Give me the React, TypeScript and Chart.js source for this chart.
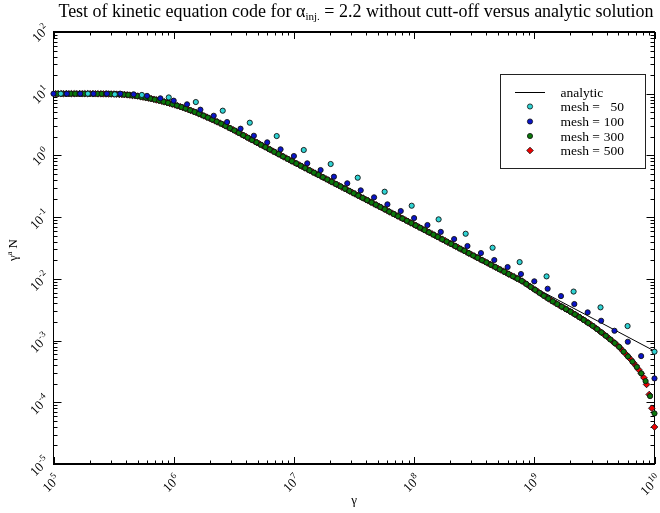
import React, { useEffect, useRef } from "react";
import { Chart, registerables } from "chart.js";

Chart.register(...registerables);

const FONT = '"Liberation Serif", "DejaVu Serif", serif';

// Axis decades (log10)
const xTickExponents = [5, 6, 7, 8, 9, 10];
const yTickExponents = [-5, -4, -3, -2, -1, 0, 1, 2];

// Analytic solution: log10(gamma), log10(gamma^a N)
const analyticLogGamma = [5.0, 5.3, 5.5, 5.6, 5.7, 5.8, 5.9, 6.0, 6.1, 6.2, 6.3, 6.4, 6.5, 6.6, 6.7, 7.0, 8.0, 9.0, 10.0];
const analyticLogN = [1.0, 1.0, 0.995, 0.985, 0.962, 0.925, 0.88, 0.825, 0.76, 0.685, 0.6, 0.51, 0.41, 0.305, 0.2, -0.11, -1.12, -2.14, -3.17];

// mesh = 50
const mesh50LogGamma = [5.061, 5.286, 5.510, 5.735, 5.959, 6.184, 6.408, 6.633, 6.857, 7.082, 7.306, 7.531, 7.755, 7.980, 8.204, 8.429, 8.653, 8.878, 9.102, 9.327, 9.551, 9.776, 10.0];
const mesh50LogN = [1.0, 1.0, 0.99, 0.98, 0.94, 0.865, 0.725, 0.53, 0.314, 0.088, -0.139, -0.361, -0.588, -0.815, -1.036, -1.269, -1.496, -1.728, -1.96, -2.206, -2.462, -2.765, -3.18];

// mesh = 100
const mesh100LogGamma = [5.0, 5.111, 5.222, 5.333, 5.444, 5.556, 5.667, 5.778, 5.889, 6.0, 6.111, 6.222, 6.333, 6.444, 6.556, 6.667, 6.778, 6.889, 7.0, 7.111, 7.222, 7.333, 7.444, 7.556, 7.667, 7.778, 7.889, 8.0, 8.111, 8.222, 8.333, 8.444, 8.556, 8.667, 8.778, 8.889, 9.0, 9.111, 9.222, 9.333, 9.444, 9.556, 9.667, 9.778, 9.889, 10.0];
const mesh100LogN = [1.0, 1.0, 1.0, 1.0, 1.0, 1.0, 0.99, 0.965, 0.925, 0.887, 0.828, 0.741, 0.643, 0.541, 0.433, 0.319, 0.212, 0.099, -0.01, -0.128, -0.237, -0.345, -0.452, -0.566, -0.679, -0.793, -0.901, -1.015, -1.128, -1.239, -1.355, -1.468, -1.582, -1.695, -1.809, -1.922, -2.04, -2.16, -2.279, -2.408, -2.543, -2.679, -2.841, -3.019, -3.251, -3.613];

// mesh = 300
const mesh300LogGamma = [5.033, 5.070, 5.107, 5.144, 5.181, 5.217, 5.254, 5.291, 5.328, 5.365, 5.401, 5.438, 5.475, 5.512, 5.549, 5.585, 5.622, 5.659, 5.696, 5.732, 5.769, 5.806, 5.843, 5.880, 5.916, 5.953, 5.990, 6.027, 6.064, 6.100, 6.137, 6.174, 6.211, 6.248, 6.284, 6.321, 6.358, 6.395, 6.431, 6.468, 6.505, 6.542, 6.579, 6.615, 6.652, 6.689, 6.726, 6.763, 6.799, 6.836, 6.873, 6.910, 6.947, 6.983, 7.020, 7.057, 7.094, 7.130, 7.167, 7.204, 7.241, 7.278, 7.314, 7.351, 7.388, 7.425, 7.462, 7.498, 7.535, 7.572, 7.609, 7.646, 7.682, 7.719, 7.756, 7.793, 7.829, 7.866, 7.903, 7.940, 7.977, 8.013, 8.050, 8.087, 8.124, 8.161, 8.197, 8.234, 8.271, 8.308, 8.344, 8.381, 8.418, 8.455, 8.492, 8.528, 8.565, 8.602, 8.639, 8.676, 8.712, 8.749, 8.786, 8.823, 8.860, 8.896, 8.933, 8.970, 9.007, 9.044, 9.080, 9.117, 9.154, 9.191, 9.228, 9.264, 9.301, 9.338, 9.375, 9.411, 9.448, 9.485, 9.522, 9.559, 9.595, 9.632, 9.669, 9.706, 9.743, 9.779, 9.816, 9.853, 9.890, 9.926, 9.963, 10.000];
const mesh300LogN = [1.0, 1.0, 1.0, 1.0, 1.0, 1.0, 1.0, 1.0, 1.0, 0.998, 0.998, 0.997, 0.996, 0.994, 0.990, 0.986, 0.980, 0.971, 0.963, 0.950, 0.936, 0.922, 0.906, 0.889, 0.871, 0.851, 0.831, 0.808, 0.784, 0.760, 0.732, 0.705, 0.676, 0.645, 0.613, 0.581, 0.548, 0.515, 0.479, 0.442, 0.405, 0.366, 0.327, 0.289, 0.250, 0.212, 0.173, 0.135, 0.097, 0.059, 0.021, -0.017, -0.055, -0.093, -0.130, -0.167, -0.205, -0.242, -0.279, -0.316, -0.353, -0.390, -0.428, -0.465, -0.502, -0.539, -0.576, -0.613, -0.651, -0.688, -0.725, -0.762, -0.799, -0.836, -0.873, -0.911, -0.948, -0.985, -1.022, -1.059, -1.096, -1.134, -1.171, -1.209, -1.246, -1.284, -1.321, -1.359, -1.396, -1.434, -1.471, -1.509, -1.546, -1.584, -1.622, -1.659, -1.697, -1.734, -1.772, -1.809, -1.847, -1.884, -1.922, -1.959, -1.997, -2.034, -2.082, -2.131, -2.178, -2.227, -2.274, -2.320, -2.365, -2.409, -2.450, -2.491, -2.531, -2.575, -2.620, -2.665, -2.713, -2.761, -2.813, -2.868, -2.923, -2.982, -3.040, -3.102, -3.179, -3.257, -3.339, -3.428, -3.531, -3.657, -3.900, -4.180];

// mesh = 500
const mesh500LogGamma = [5.018, 5.040, 5.062, 5.084, 5.106, 5.128, 5.150, 5.172, 5.194, 5.216, 5.238, 5.261, 5.283, 5.305, 5.327, 5.349, 5.371, 5.393, 5.415, 5.437, 5.459, 5.481, 5.503, 5.525, 5.547, 5.569, 5.591, 5.613, 5.635, 5.657, 5.679, 5.701, 5.723, 5.745, 5.768, 5.790, 5.812, 5.834, 5.856, 5.878, 5.900, 5.922, 5.944, 5.966, 5.988, 6.010, 6.032, 6.054, 6.076, 6.098, 6.120, 6.142, 6.164, 6.186, 6.208, 6.230, 6.253, 6.275, 6.297, 6.319, 6.341, 6.363, 6.385, 6.407, 6.429, 6.451, 6.473, 6.495, 6.517, 6.539, 6.561, 6.583, 6.605, 6.627, 6.649, 6.671, 6.693, 6.715, 6.737, 6.760, 6.782, 6.804, 6.826, 6.848, 6.870, 6.892, 6.914, 6.936, 6.958, 6.980, 7.002, 7.024, 7.046, 7.068, 7.090, 7.112, 7.134, 7.156, 7.178, 7.200, 7.222, 7.245, 7.267, 7.289, 7.311, 7.333, 7.355, 7.377, 7.399, 7.421, 7.443, 7.465, 7.487, 7.509, 7.531, 7.553, 7.575, 7.597, 7.619, 7.641, 7.663, 7.685, 7.707, 7.730, 7.752, 7.774, 7.796, 7.818, 7.840, 7.862, 7.884, 7.906, 7.928, 7.950, 7.972, 7.994, 8.016, 8.038, 8.060, 8.082, 8.104, 8.126, 8.148, 8.170, 8.192, 8.214, 8.236, 8.259, 8.281, 8.303, 8.325, 8.347, 8.369, 8.391, 8.413, 8.435, 8.457, 8.479, 8.501, 8.523, 8.545, 8.567, 8.589, 8.611, 8.633, 8.655, 8.677, 8.699, 8.721, 8.744, 8.766, 8.788, 8.810, 8.832, 8.854, 8.876, 8.898, 8.920, 8.942, 8.964, 8.986, 9.008, 9.030, 9.052, 9.074, 9.096, 9.118, 9.140, 9.162, 9.184, 9.206, 9.228, 9.251, 9.273, 9.295, 9.317, 9.339, 9.361, 9.383, 9.405, 9.427, 9.449, 9.471, 9.493, 9.515, 9.537, 9.559, 9.581, 9.603, 9.625, 9.647, 9.669, 9.691, 9.713, 9.735, 9.758, 9.780, 9.802, 9.824, 9.846, 9.868, 9.890, 9.912, 9.934, 9.956, 9.978, 10.000];
const mesh500LogN = [1.0, 1.0, 1.0, 1.0, 1.0, 1.0, 1.0, 1.0, 1.0, 1.0, 1.0, 1.0, 1.0, 1.0, 0.999, 0.999, 0.998, 0.998, 0.997, 0.997, 0.996, 0.995, 0.995, 0.993, 0.990, 0.988, 0.986, 0.982, 0.977, 0.972, 0.967, 0.962, 0.953, 0.945, 0.937, 0.929, 0.920, 0.910, 0.900, 0.890, 0.880, 0.868, 0.856, 0.844, 0.832, 0.819, 0.804, 0.790, 0.776, 0.761, 0.745, 0.729, 0.712, 0.696, 0.678, 0.660, 0.640, 0.621, 0.603, 0.583, 0.563, 0.543, 0.524, 0.503, 0.481, 0.459, 0.437, 0.415, 0.392, 0.369, 0.346, 0.323, 0.300, 0.277, 0.254, 0.230, 0.207, 0.185, 0.162, 0.138, 0.115, 0.093, 0.070, 0.047, 0.024, 0.002, -0.021, -0.044, -0.067, -0.089, -0.112, -0.134, -0.156, -0.179, -0.201, -0.223, -0.245, -0.268, -0.290, -0.312, -0.334, -0.357, -0.380, -0.402, -0.424, -0.446, -0.469, -0.491, -0.513, -0.535, -0.557, -0.580, -0.602, -0.624, -0.646, -0.669, -0.691, -0.713, -0.735, -0.757, -0.780, -0.802, -0.824, -0.847, -0.870, -0.892, -0.914, -0.936, -0.958, -0.981, -1.003, -1.025, -1.047, -1.070, -1.092, -1.114, -1.136, -1.159, -1.181, -1.204, -1.226, -1.249, -1.271, -1.293, -1.316, -1.338, -1.361, -1.384, -1.407, -1.429, -1.452, -1.474, -1.496, -1.519, -1.541, -1.564, -1.586, -1.609, -1.631, -1.653, -1.676, -1.698, -1.721, -1.743, -1.766, -1.788, -1.811, -1.833, -1.855, -1.879, -1.901, -1.924, -1.946, -1.969, -1.991, -2.014, -2.036, -2.064, -2.093, -2.122, -2.152, -2.180, -2.209, -2.238, -2.266, -2.295, -2.322, -2.348, -2.374, -2.401, -2.427, -2.451, -2.476, -2.500, -2.525, -2.550, -2.577, -2.603, -2.630, -2.657, -2.685, -2.714, -2.742, -2.771, -2.803, -2.836, -2.869, -2.902, -2.935, -2.970, -3.005, -3.040, -3.076, -3.117, -3.164, -3.212, -3.258, -3.305, -3.358, -3.410, -3.470, -3.532, -3.603, -3.711, -3.874, -4.096, -4.400];

const legendEntries = [
  { label: "analytic", num: "", kind: "line", color: "#000000" },
  { label: "mesh =", num: "50", kind: "circle", color: "#2fd3d3" },
  { label: "mesh =", num: "100", kind: "circle", color: "#0a14c8" },
  { label: "mesh =", num: "300", kind: "circle", color: "#0a780a" },
  { label: "mesh =", num: "500", kind: "rectRot", color: "#f00000" },
];

function toPoints(lx: number[], ly: number[]) {
  const n = Math.min(lx.length, ly.length);
  const out: { x: number; y: number }[] = [];
  for (let i = 0; i < n; i++) out.push({ x: Math.pow(10, lx[i]), y: Math.pow(10, ly[i]) });
  return out;
}

function powLabelRotated(ctx: CanvasRenderingContext2D, exp: string, ax: number, ay: number) {
  ctx.save();
  ctx.translate(ax, ay);
  ctx.rotate(-Math.PI / 4);
  ctx.textAlign = "left";
  ctx.textBaseline = "alphabetic";
  ctx.font = `13px ${FONT}`;
  const wb = ctx.measureText("10").width;
  ctx.font = `9px ${FONT}`;
  const we = ctx.measureText(exp).width;
  const total = wb + we + 0.5;
  ctx.font = `13px ${FONT}`;
  ctx.fillText("10", -total, 0);
  ctx.font = `9px ${FONT}`;
  ctx.fillText(exp, -we, -5.5);
  ctx.restore();
}

const framePlugin = {
  id: "frame",
  beforeDatasetsDraw(chart: any) {
    const { ctx, chartArea: a, scales } = chart;
    const xs = scales.x;
    const ys = scales.y;
    ctx.save();
    ctx.strokeStyle = "#000";
    ctx.lineWidth = 1;
    ctx.beginPath();
    for (let k = 5; k <= 10; k++) {
      for (let j = 1; j <= 9; j++) {
        const v = j * Math.pow(10, k);
        if (v > 1e10 * 1.0001) break;
        const px = Math.round(xs.getPixelForValue(v)) + 0.5;
        const len = j === 1 ? 7 : 3.5;
        ctx.moveTo(px, a.bottom);
        ctx.lineTo(px, a.bottom - len);
        ctx.moveTo(px, a.top);
        ctx.lineTo(px, a.top + len);
      }
    }
    for (let k = -5; k <= 2; k++) {
      for (let j = 1; j <= 9; j++) {
        const v = j * Math.pow(10, k);
        if (v > 100 * 1.0001) break;
        const py = Math.round(ys.getPixelForValue(v)) + 0.5;
        const len = j === 1 ? 8 : 4;
        ctx.moveTo(a.left, py);
        ctx.lineTo(a.left + len, py);
        ctx.moveTo(a.right, py);
        ctx.lineTo(a.right - len, py);
      }
    }
    ctx.stroke();
    ctx.lineWidth = 1;
    ctx.beginPath();
    ctx.moveTo(a.left, a.top);
    ctx.lineTo(a.left, a.bottom);
    ctx.moveTo(a.right, a.top);
    ctx.lineTo(a.right, a.bottom);
    ctx.stroke();
    ctx.lineWidth = 2;
    ctx.beginPath();
    ctx.moveTo(a.left - 0.5, a.top);
    ctx.lineTo(a.right + 0.5, a.top);
    ctx.moveTo(a.left - 0.5, a.bottom);
    ctx.lineTo(a.right + 0.5, a.bottom);
    ctx.stroke();
    ctx.restore();
  },
  afterDraw(chart: any) {
    const { ctx, chartArea: a, scales } = chart;
    const xs = scales.x;
    const ys = scales.y;
    ctx.save();
    ctx.fillStyle = "#000";
    xTickExponents.forEach((e) => {
      const px = xs.getPixelForValue(Math.pow(10, e));
      powLabelRotated(ctx, String(e), px + 7, a.bottom + 16);
    });
    yTickExponents.forEach((e) => {
      const py = ys.getPixelForValue(Math.pow(10, e));
      powLabelRotated(ctx, String(e), a.left - 3.5, py - 2);
    });
    // axis titles
    ctx.font = `13px ${FONT}`;
    ctx.textAlign = "center";
    ctx.textBaseline = "alphabetic";
    ctx.fillText("\u03b3", (a.left + a.right) / 2, 504);
    ctx.save();
    ctx.translate(17, 250);
    ctx.rotate(-Math.PI / 2);
    ctx.textAlign = "left";
    ctx.font = `13px ${FONT}`;
    const wg = ctx.measureText("\u03b3").width;
    ctx.font = `8px ${FONT}`;
    const wa = ctx.measureText("a").width;
    ctx.font = `13px ${FONT}`;
    const wn = ctx.measureText(" N").width;
    const tot = wg + wa + wn;
    let cx = -tot / 2;
    ctx.fillText("\u03b3", cx, 0);
    cx += wg;
    ctx.font = `8px ${FONT}`;
    ctx.fillText("a", cx, -5);
    cx += wa;
    ctx.font = `13px ${FONT}`;
    ctx.fillText(" N", cx, 0);
    ctx.restore();

    // title with subscript
    const t1 = "Test of kinetic equation code for \u03b1";
    const tsub = "inj.";
    const t2 = " = 2.2 without cutt-off versus analytic solution";
    ctx.textAlign = "left";
    ctx.font = `18px ${FONT}`;
    const w1 = ctx.measureText(t1).width;
    const w2 = ctx.measureText(t2).width;
    ctx.font = `11px ${FONT}`;
    const ws = ctx.measureText(tsub).width;
    const titleW = w1 + ws + w2;
    let tx = 356 - titleW / 2;
    const ty = 17;
    ctx.font = `18px ${FONT}`;
    ctx.fillText(t1, tx, ty);
    tx += w1;
    ctx.font = `11px ${FONT}`;
    ctx.fillText(tsub, tx, ty + 3);
    tx += ws;
    ctx.font = `18px ${FONT}`;
    ctx.fillText(t2, tx, ty);

    // legend
    const lx0 = 500.5, ly0 = 74.5, lw = 145, lh = 94;
    ctx.fillStyle = "#fff";
    ctx.fillRect(lx0, ly0, lw, lh);
    ctx.strokeStyle = "#222";
    ctx.lineWidth = 1;
    ctx.strokeRect(lx0, ly0, lw, lh);
    const rows = [92, 106.5, 121.5, 136, 150.5];
    legendEntries.forEach((en, i) => {
      const ry = rows[i];
      if (en.kind === "line") {
        ctx.strokeStyle = "#000";
        ctx.lineWidth = 1;
        ctx.beginPath();
        ctx.moveTo(515, ry + 0.5);
        ctx.lineTo(545, ry + 0.5);
        ctx.stroke();
      } else if (en.kind === "circle") {
        ctx.fillStyle = en.color;
        ctx.strokeStyle = "#111";
        ctx.lineWidth = 0.8;
        ctx.beginPath();
        ctx.arc(530, ry, 2.6, 0, Math.PI * 2);
        ctx.fill();
        ctx.stroke();
      } else {
        ctx.fillStyle = en.color;
        ctx.strokeStyle = "#111";
        ctx.lineWidth = 0.8;
        ctx.beginPath();
        ctx.moveTo(530, ry - 3.3);
        ctx.lineTo(533.3, ry);
        ctx.lineTo(530, ry + 3.3);
        ctx.lineTo(526.7, ry);
        ctx.closePath();
        ctx.fill();
        ctx.stroke();
      }
      ctx.fillStyle = "#000";
      ctx.font = `13.5px ${FONT}`;
      ctx.textAlign = "left";
      ctx.fillText(en.label, 560.5, ry + 4.5);
      if (en.num) {
        ctx.textAlign = "right";
        ctx.fillText(en.num, 624, ry + 4.5);
      }
    });
    ctx.restore();
  },
};

export default function App() {
  const ref = useRef<HTMLCanvasElement>(null);
  useEffect(() => {
    if (!ref.current) return;
    const markerBase = {
      showLine: false,
      pointBorderColor: "#111",
      pointBorderWidth: 0.9,
      clip: false as any,
    };
    const chart = new Chart(ref.current, {
      type: "scatter",
      data: {
        datasets: [
          {
            label: "analytic",
            data: toPoints(analyticLogGamma, analyticLogN),
            showLine: true,
            borderColor: "#000",
            borderWidth: 1,
            pointRadius: 0,
            order: 10,
          } as any,
          {
            ...markerBase,
            label: "mesh = 50",
            data: toPoints(mesh50LogGamma, mesh50LogN),
            pointBackgroundColor: legendEntries[1].color,
            pointRadius: 2.6,
            pointStyle: "circle",
            order: 1,
          },
          {
            ...markerBase,
            label: "mesh = 100",
            data: toPoints(mesh100LogGamma, mesh100LogN),
            pointBackgroundColor: legendEntries[2].color,
            pointRadius: 2.6,
            pointStyle: "circle",
            order: 2,
          },
          {
            ...markerBase,
            label: "mesh = 300",
            data: toPoints(mesh300LogGamma, mesh300LogN),
            pointBackgroundColor: legendEntries[3].color,
            pointRadius: 2.6,
            pointStyle: "circle",
            order: 3,
          },
          {
            ...markerBase,
            label: "mesh = 500",
            data: toPoints(mesh500LogGamma, mesh500LogN),
            pointBackgroundColor: legendEntries[4].color,
            pointRadius: 3.3,
            pointStyle: "rectRot",
            order: 4,
          },
        ],
      },
      options: {
        responsive: false,
        devicePixelRatio: 1,
        animation: false,
        layout: { padding: { left: 53.5, right: 5.5, top: 32, bottom: 49 } },
        plugins: {
          legend: { display: false },
          title: { display: false },
          tooltip: { enabled: false },
        },
        events: [],
        scales: {
          x: { type: "logarithmic", display: false, min: 1e5, max: 1e10 },
          y: { type: "logarithmic", display: false, min: 1e-5, max: 1e2 },
        },
      },
      plugins: [framePlugin],
    } as any);
    return () => chart.destroy();
  }, []);
  return (
    <div style={{ position: "fixed", left: 0, top: 0, width: 660, height: 513, background: "#fff" }}>
      <canvas ref={ref} width={660} height={513} style={{ width: 660, height: 513, display: "block" }} />
    </div>
  );
}
